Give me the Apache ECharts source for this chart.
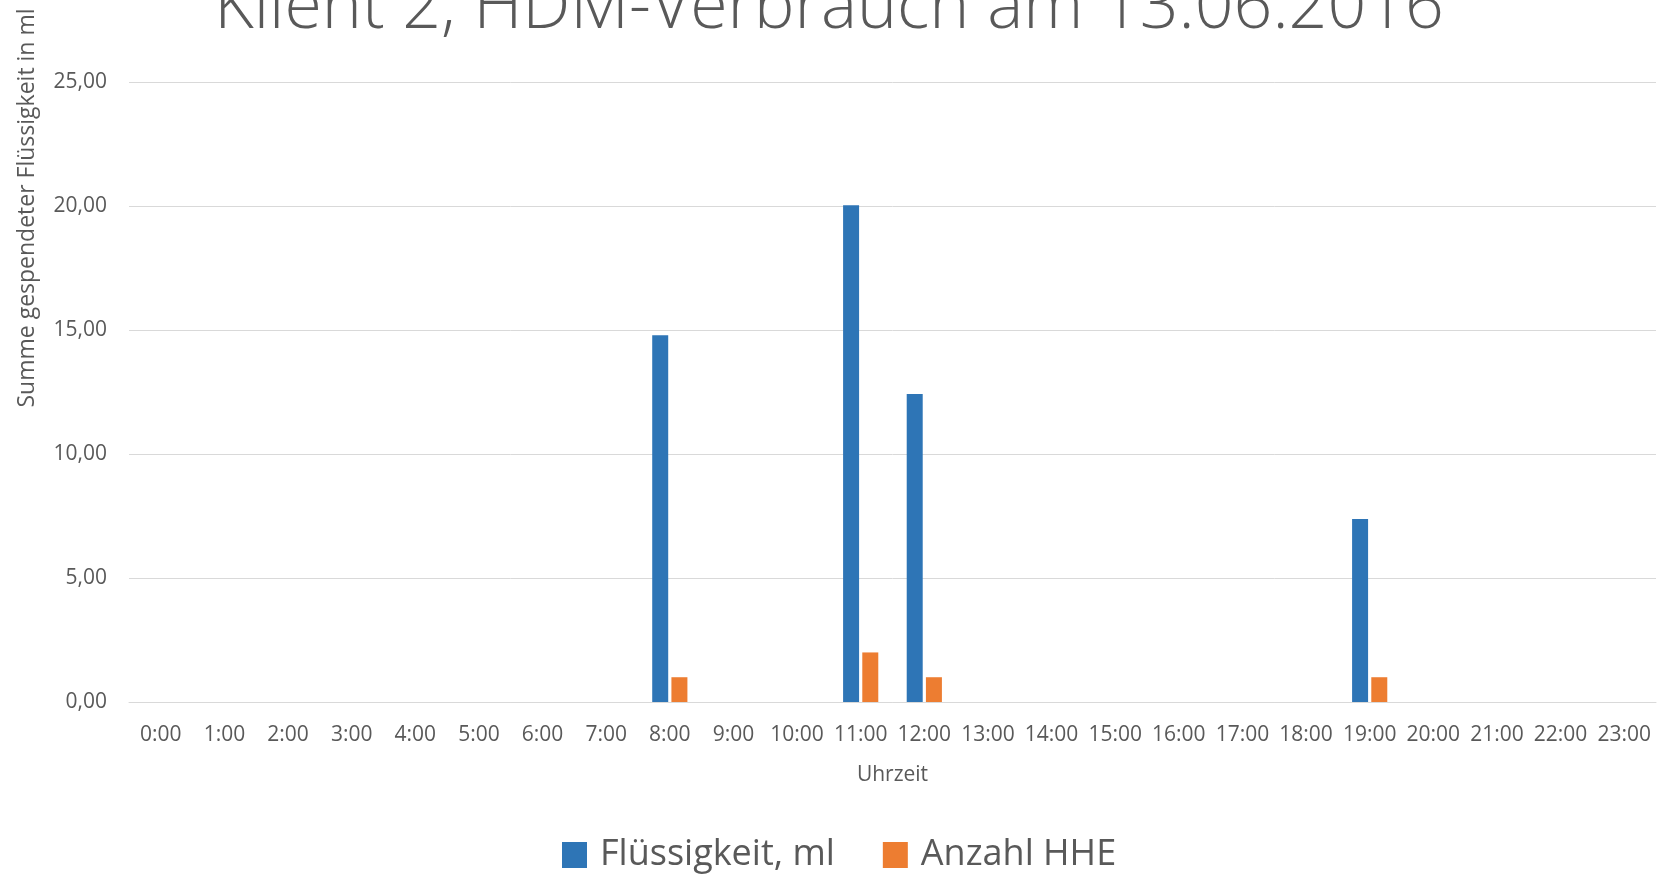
<!DOCTYPE html>
<html>
<head>
<meta charset="utf-8">
<title>Klient 2, HDM-Verbrauch am 13.06.2016</title>
<script src="https://cdn.jsdelivr.net/npm/echarts@6/dist/echarts.min.js"></script>
<style>
  html, body { margin: 0; padding: 0; background: #ffffff; }
  #chart { width: 1658px; height: 879px; }
</style>
</head>
<body>
<div id="chart"></div>
<script>
const hours = [
  "0:00", "1:00", "2:00", "3:00", "4:00", "5:00", "6:00", "7:00",
  "8:00", "9:00", "10:00", "11:00", "12:00", "13:00", "14:00", "15:00",
  "16:00", "17:00", "18:00", "19:00", "20:00", "21:00", "22:00", "23:00"
];
const fluidMl = [0, 0, 0, 0, 0, 0, 0, 0, 14.8, 0, 0, 20.05, 12.43, 0, 0, 0, 0, 0, 0, 7.38, 0, 0, 0, 0];
const hheCount = [0, 0, 0, 0, 0, 0, 0, 0, 1, 0, 0, 2, 1, 0, 0, 0, 0, 0, 0, 1, 0, 0, 0, 0];
const yTicks = [0, 5, 10, 15, 20, 25];

const FONT = "'Open Sans', 'Noto Sans', sans-serif";
const GREY = "#595959";

const chart = echarts.init(document.getElementById("chart"));

chart.setOption({
  animation: false,
  color: ["#2E75B6", "#ED7D31"],
  title: {
    text: "Klient 2, HDM-Verbrauch am 13.06.2016",
    left: "center",
    top: -30,
    textStyle: {
      fontFamily: FONT,
      fontWeight: 300,
      fontSize: 68,
      color: GREY,
    },
  },
  legend: {
    data: ["Flüssigkeit, ml", "Anzahl HHE"],
    left: 557,
    top: 832,
    itemWidth: 25,
    itemHeight: 26,
    itemGap: 48,
    icon: "rect",
    textStyle: {
      fontFamily: FONT,
      fontSize: 36,
      color: GREY,
      padding: [0, 0, 0, 8],
    },
  },
  grid: {
    left: 129,
    right: 2,
    top: 82.5,
    bottom: 177,
  },
  graphic: [
    {
      type: "text",
      x: 27,
      y: 208,
      rotation: Math.PI / 2,
      style: {
        text: "Summe gespendeter Flüssigkeit in ml",
        fontFamily: FONT,
        fontSize: 23,
        fill: GREY,
        textAlign: "center",
        textVerticalAlign: "middle",
      },
    },
  ],
  xAxis: {
    type: "category",
    data: hours,
    name: "Uhrzeit",
    nameLocation: "middle",
    nameGap: 63,
    nameTextStyle: {
      fontFamily: FONT,
      fontSize: 21,
      color: GREY,
    },
    axisLine: { lineStyle: { color: "#D9D9D9", width: 1 } },
    axisTick: { show: false },
    axisLabel: {
      interval: 0,
      margin: 23,
      fontFamily: FONT,
      fontSize: 21,
      color: GREY,
    },
  },
  yAxis: {
    type: "value",
    min: yTicks[0],
    max: yTicks[yTicks.length - 1],
    interval: 5,
    axisLine: { show: false },
    axisTick: { show: false },
    splitLine: { lineStyle: { color: "#D9D9D9", width: 1 } },
    axisLabel: {
      margin: 22,
      fontFamily: FONT,
      fontSize: 21,
      color: GREY,
      formatter: (v) => v.toFixed(2).replace(".", ","),
    },
  },
  series: [
    {
      name: "Flüssigkeit, ml",
      type: "bar",
      barWidth: 16,
      barGap: "20%",
      data: fluidMl,
    },
    {
      name: "Anzahl HHE",
      type: "bar",
      barWidth: 16,
      barGap: "20%",
      data: hheCount,
    },
  ],
});
</script>
</body>
</html>
